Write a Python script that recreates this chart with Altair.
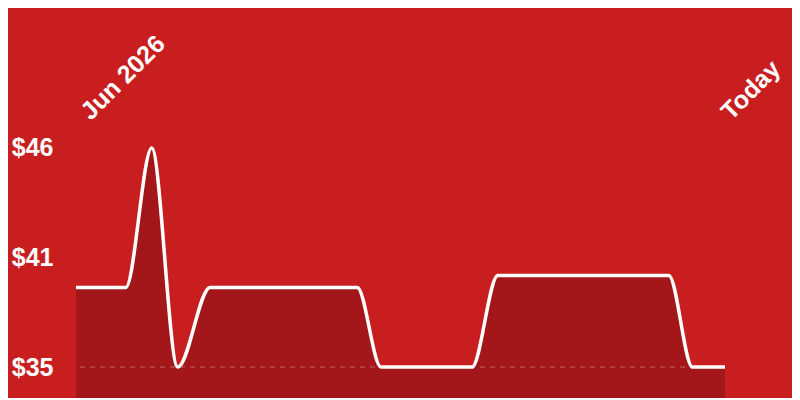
import altair as alt
import pandas as pd

days = [0, 2.3, 3.5, 4.7, 6.2, 13.0, 14.1, 18.3, 19.5, 27.4, 28.5, 30]
prices = [39, 39, 46, 35, 39, 39, 35, 35, 39.6, 39.6, 35, 35]
y_ticks = [35, 40.5, 46]
x_ticks = [0.4, 30]
x_labels = ["Jun 2026", "Today"]

df = pd.DataFrame({"day": days, "price": prices})
min_df = pd.DataFrame({"price": [min(prices)]})

BG = "#C81E1F"
AREA = "#A3171A"
FONT = "Liberation Sans"

x = alt.X("day:Q", scale=alt.Scale(domain=[0, 30], nice=False, zero=False),
          axis=alt.Axis(orient="top", values=x_ticks, labelAngle=315, labelAlign="left",
                        labelBaseline="middle", labelPadding=2, ticks=False, domain=False,
                        grid=False, title=None, labelFontSize=25, labelFontWeight="bold",
                        labelColor="white", labelFont=FONT, labelOverlap=False,
                        labelFlush=False,
                        labelExpr="datum.value < 1 ? '" + x_labels[0] + "' : '" + x_labels[1] + "'"))
y = alt.Y("price:Q", scale=alt.Scale(domain=[33.45, 47.55], nice=False, zero=False),
          axis=alt.Axis(values=y_ticks, ticks=False, tickSize=0, domain=False, grid=False, title=None,
                        labelFontSize=25, labelFontWeight="bold", labelColor="white",
                        labelFont=FONT, labelPadding=23, labelOverlap=False, labelFlush=False,
                        labelExpr="'$' + format(datum.value, '.0f')"))

area = alt.Chart(df).mark_area(color=AREA, interpolate="monotone", opacity=1).encode(x=x, y=y)
line = alt.Chart(df).mark_line(color="white", strokeWidth=3.5, interpolate="monotone").encode(x=x, y=y)
rule = alt.Chart(min_df).mark_rule(color="#ffffff", opacity=0.22, strokeWidth=1.5,
                                   strokeDash=[5, 5]).encode(y=alt.Y("price:Q"))

chart = alt.layer(area, rule, line).properties(
    width=649, height=281,
    background=BG,
    padding={"left": 68, "top": 109, "right": 67, "bottom": 0},
    autosize=alt.AutoSizeParams(type="none"),
).configure_view(stroke=None)

chart.save("out.html", embed_options={"renderer": "svg", "actions": False})
